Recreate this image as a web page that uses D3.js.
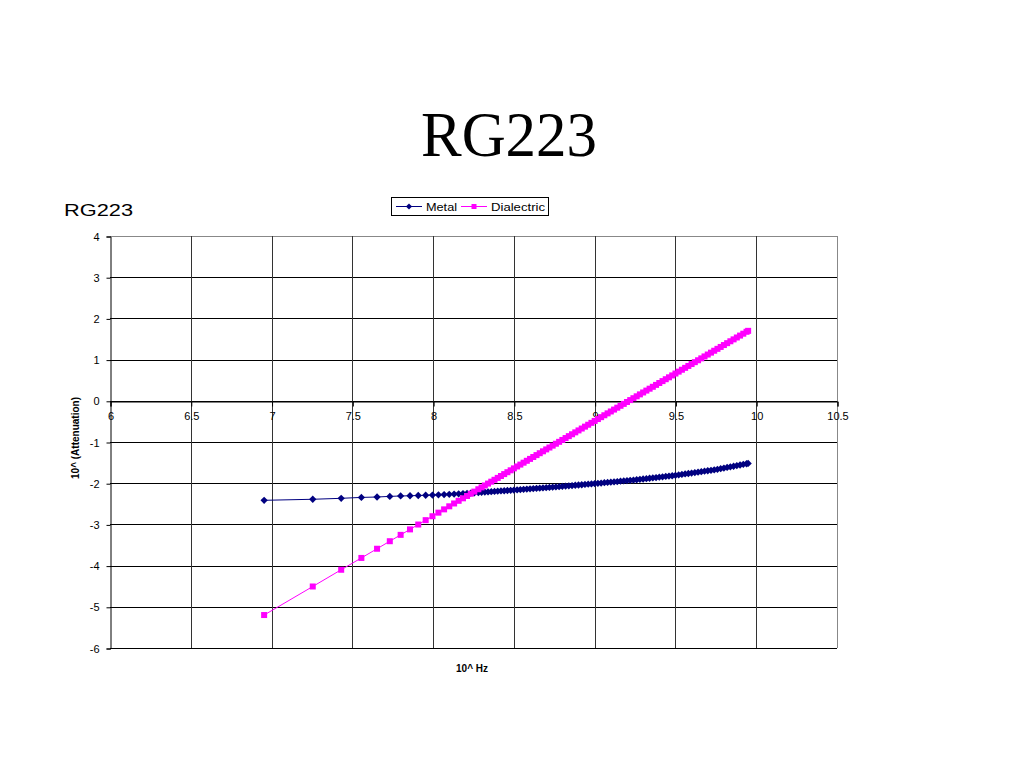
<!DOCTYPE html>
<html><head><meta charset="utf-8">
<script src="https://cdn.jsdelivr.net/npm/d3@7/dist/d3.min.js"></script>
<style>body{margin:0;background:#fff}svg{display:block}</style>
</head><body>
<svg id="c" width="1024" height="768"></svg>
<script>
const chartTitle = "RG223";
const seriesNames = ["Metal", "Dialectric"];
const xTicks = [6, 6.5, 7, 7.5, 8, 8.5, 9, 9.5, 10, 10.5];
const yTicks = [-6, -5, -4, -3, -2, -1, 0, 1, 2, 3, 4];
// log10 of frequency (Hz)
const logHz = [
  6.954, 7.255, 7.431, 7.556, 7.653, 7.732, 7.799, 7.857, 7.908, 7.954,
  7.996, 8.033, 8.068, 8.100, 8.130, 8.158, 8.185, 8.210, 8.233, 8.255,
  8.28, 8.30, 8.32, 8.34, 8.36, 8.38, 8.40, 8.42, 8.44, 8.46,
  8.48, 8.50, 8.52, 8.54, 8.56, 8.58, 8.60, 8.62, 8.64, 8.66,
  8.68, 8.70, 8.72, 8.74, 8.76, 8.78, 8.80, 8.82, 8.84, 8.86,
  8.88, 8.90, 8.92, 8.94, 8.96, 8.98, 9.00, 9.02, 9.04, 9.06,
  9.08, 9.10, 9.12, 9.14, 9.16, 9.18, 9.20, 9.22, 9.24, 9.26,
  9.28, 9.30, 9.32, 9.34, 9.36, 9.38, 9.40, 9.42, 9.44, 9.46,
  9.48, 9.50, 9.52, 9.54, 9.56, 9.58, 9.60, 9.62, 9.64, 9.66,
  9.68, 9.70, 9.72, 9.74, 9.76, 9.78, 9.80, 9.82, 9.84, 9.86,
  9.88, 9.90, 9.92, 9.94, 9.95
];
const metal = [
  -2.415, -2.390, -2.367, -2.345, -2.335, -2.320, -2.310, -2.305, -2.298, -2.293,
  -2.288, -2.282, -2.276, -2.270, -2.265, -2.259, -2.253, -2.248, -2.241, -2.235,
  -2.228, -2.222, -2.216, -2.211, -2.205, -2.200, -2.194, -2.188, -2.183, -2.177,
  -2.172, -2.166, -2.160, -2.154, -2.149, -2.143, -2.137, -2.131, -2.125, -2.120,
  -2.114, -2.108, -2.102, -2.096, -2.091, -2.084, -2.077, -2.070, -2.064, -2.057,
  -2.050, -2.044, -2.037, -2.030, -2.023, -2.017, -2.010, -2.003, -1.996, -1.988,
  -1.981, -1.974, -1.967, -1.960, -1.952, -1.945, -1.938, -1.931, -1.924, -1.916,
  -1.907, -1.898, -1.889, -1.880, -1.872, -1.863, -1.854, -1.845, -1.836, -1.828,
  -1.819, -1.810, -1.799, -1.788, -1.776, -1.765, -1.754, -1.743, -1.732, -1.720,
  -1.709, -1.698, -1.687, -1.676, -1.663, -1.648, -1.633, -1.618, -1.603, -1.588,
  -1.573, -1.558, -1.543, -1.528, -1.520
];
const dielectric = [
  -5.200, -4.507, -4.101, -3.814, -3.591, -3.408, -3.254, -3.121, -3.003, -2.897,
  -2.802, -2.715, -2.635, -2.561, -2.492, -2.427, -2.367, -2.310, -2.256, -2.204,
  -2.147, -2.101, -2.055, -2.009, -1.963, -1.917, -1.871, -1.825, -1.779, -1.733,
  -1.687, -1.640, -1.594, -1.548, -1.502, -1.456, -1.410, -1.364, -1.318, -1.272,
  -1.226, -1.180, -1.134, -1.088, -1.042, -0.996, -0.950, -0.904, -0.858, -0.812,
  -0.766, -0.719, -0.673, -0.627, -0.581, -0.535, -0.489, -0.443, -0.397, -0.351,
  -0.305, -0.259, -0.213, -0.167, -0.121, -0.075, -0.029, 0.017, 0.063, 0.109,
  0.156, 0.202, 0.248, 0.294, 0.340, 0.386, 0.432, 0.478, 0.524, 0.570,
  0.616, 0.662, 0.708, 0.754, 0.800, 0.846, 0.892, 0.938, 0.984, 1.030,
  1.077, 1.123, 1.169, 1.215, 1.261, 1.307, 1.353, 1.399, 1.445, 1.491,
  1.537, 1.583, 1.629, 1.675, 1.698
];

const svg = d3.select("#c");
const L = 110, R = 837, T = 236, B = 648;
const x = d3.scaleLinear().domain([6, 10.5]).range([L, R]);
const y = d3.scaleLinear().domain([-6, 4]).range([B, T]);
const sans = "Liberation Sans, Arial, sans-serif";

// Title
svg.append("text").attr("x", 509).attr("y", 156).attr("text-anchor", "middle")
  .attr("font-family", "Liberation Serif, Times New Roman, serif").attr("font-size", 64)
  .attr("textLength", 176).attr("lengthAdjust", "spacingAndGlyphs")
  .text(chartTitle);
svg.append("text").attr("x", 64).attr("y", 216)
  .attr("font-family", sans).attr("font-size", 16)
  .attr("textLength", 69).attr("lengthAdjust", "spacingAndGlyphs")
  .text(chartTitle);

// Grid
const g = svg.append("g");
g.selectAll("line.h").data(yTicks).join("line")
  .attr("x1", L).attr("x2", R)
  .attr("y1", d => Math.round(y(d)) + 0.5).attr("y2", d => Math.round(y(d)) + 0.5)
  .attr("stroke", d => d === 4 ? "#888" : "#000").attr("stroke-width", 1);
g.selectAll("line.v").data(xTicks.slice(1)).join("line")
  .attr("y1", T).attr("y2", B)
  .attr("x1", d => Math.round(x(d)) + 0.5).attr("x2", d => Math.round(x(d)) + 0.5)
  .attr("stroke", d => d === 10.5 ? "#888" : "#333").attr("stroke-width", 1);

// Y axis
const yAxis = d3.axisLeft(y).tickValues(yTicks).tickSize(4).tickPadding(7).tickFormat(d => String(d));
const ya = svg.append("g").attr("transform", `translate(${L + 0.5},0.5)`).call(yAxis);
ya.select(".domain").attr("stroke", "#000");
ya.selectAll("text").attr("font-family", sans).attr("font-size", 11).attr("fill", "#000");

// X axis at y = 0
const xAxis = d3.axisBottom(x).tickValues(xTicks).tickSize(5).tickPadding(6).tickFormat(d => String(d));
const xa = svg.append("g").attr("transform", `translate(0.5,${Math.round(y(0)) + 0.5})`).call(xAxis);
xa.select(".domain").attr("stroke", "#000");
xa.selectAll("text").attr("font-family", sans).attr("font-size", 11).attr("fill", "#000");

// Axis titles
svg.append("text").attr("transform", `translate(79,438) rotate(-90)`).attr("text-anchor", "middle")
  .attr("font-family", sans).attr("font-size", 10).attr("font-weight", "bold").text("10^ (Attenuation)");
svg.append("text").attr("x", 472).attr("y", 672).attr("text-anchor", "middle")
  .attr("font-family", sans).attr("font-size", 10).attr("font-weight", "bold").text("10^ Hz");

// Series
const mData = logHz.map((v, i) => [v, metal[i]]);
const dData = logHz.map((v, i) => [v, dielectric[i]]);
const line = d3.line().x(d => x(d[0])).y(d => y(d[1]));
const mColor = "#000080", dColor = "#FF00FF";
const diamond = d3.symbol().type(d3.symbolDiamond2).size(34);

svg.append("path").attr("d", line(mData)).attr("fill", "none").attr("stroke", mColor).attr("stroke-width", 1);
svg.append("g").selectAll("path").data(mData).join("path")
  .attr("d", diamond).attr("transform", d => `translate(${x(d[0])},${y(d[1])})`).attr("fill", mColor);

svg.append("path").attr("d", line(dData)).attr("fill", "none").attr("stroke", dColor).attr("stroke-width", 1);
svg.append("g").selectAll("rect").data(dData).join("rect")
  .attr("x", d => x(d[0]) - 3).attr("y", d => y(d[1]) - 3).attr("width", 6).attr("height", 6).attr("fill", dColor);

// Legend
const lg = svg.append("g");
lg.append("rect").attr("x", 391.5).attr("y", 197.5).attr("width", 157).attr("height", 18)
  .attr("fill", "#fff").attr("stroke", "#000");
lg.append("line").attr("x1", 396).attr("x2", 422).attr("y1", 206.5).attr("y2", 206.5).attr("stroke", mColor);
lg.append("path").attr("d", d3.symbol().type(d3.symbolDiamond2).size(24)).attr("transform", "translate(409,206.5)").attr("fill", mColor);
lg.append("text").attr("x", 426).attr("y", 210.5).attr("font-family", sans).attr("font-size", 11.5)
  .attr("textLength", 31).attr("lengthAdjust", "spacingAndGlyphs").text(seriesNames[0]);
lg.append("line").attr("x1", 461).attr("x2", 487).attr("y1", 206.5).attr("y2", 206.5).attr("stroke", dColor);
lg.append("rect").attr("x", 471.5).attr("y", 204).attr("width", 5).attr("height", 5).attr("fill", dColor);
lg.append("text").attr("x", 491).attr("y", 210.5).attr("font-family", sans).attr("font-size", 11.5)
  .attr("textLength", 54).attr("lengthAdjust", "spacingAndGlyphs").text(seriesNames[1]);
</script>
</body></html>
